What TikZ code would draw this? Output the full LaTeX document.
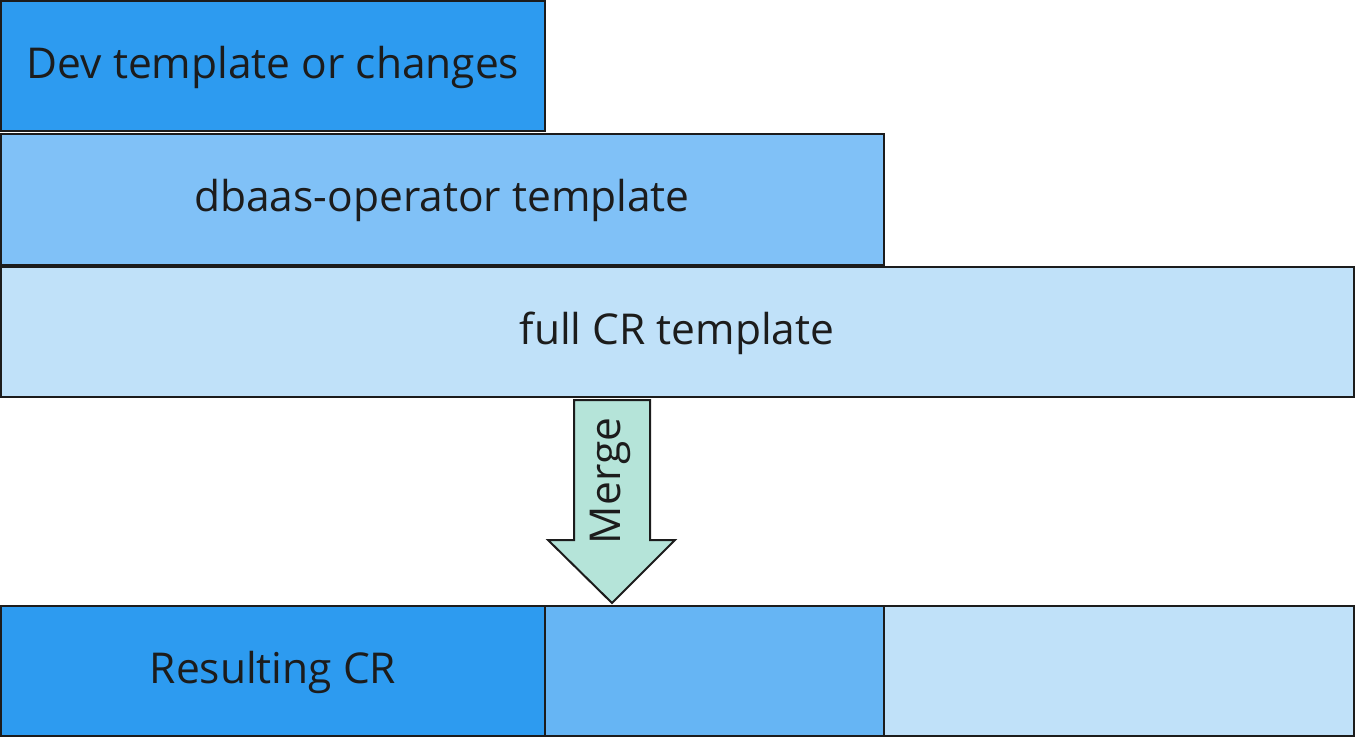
\documentclass[tikz,border=0pt]{standalone}
\usepackage{fontspec}
\setmainfont{Open Sans}
\definecolor{cA}{HTML}{2D9BF0}
\definecolor{cB}{HTML}{80C1F7}
\definecolor{cC}{HTML}{C0E1F9}
\definecolor{cM}{HTML}{66B5F4}
\definecolor{cG}{HTML}{B5E4D9}
\definecolor{ln}{HTML}{1C1C1C}
\begin{document}
\begin{tikzpicture}[x=1pt,y=-1pt,
  blk/.style={draw=ln,line width=2pt},
  lbl/.style={text=ln,inner sep=0pt,font=\fontsize{42.5}{50}\selectfont},
  ]
\useasboundingbox (0,0) rectangle (1355,737);
\path[blk,fill=cA] (1,1) rectangle (545,131);
\node[lbl] (dev) at (273,67) {Dev template or changes};
\path[blk,fill=cB] (1,134) rectangle (884,265);
\node[lbl] (dbaas) at (442,200) {dbaas-operator template};
\path[blk,fill=cC] (1,267) rectangle (1354,397);
\node[lbl] (full) at (677,333) {full CR template};
\path[blk,fill=cG] (574,400) -- (650,400) -- (650,540) -- (675,540) -- (612,603) -- (548,540) -- (574,540) -- cycle;
\node[lbl,rotate=90] (merge) at (610,481) {Merge};
\path[blk,fill=cA] (1,606) rectangle (545,736);
\path[blk,fill=cM] (545,606) rectangle (884,736);
\path[blk,fill=cC] (884,606) rectangle (1354,736);
\node[lbl] (res) at (273,672) {Resulting CR};
\end{tikzpicture}
\end{document}
